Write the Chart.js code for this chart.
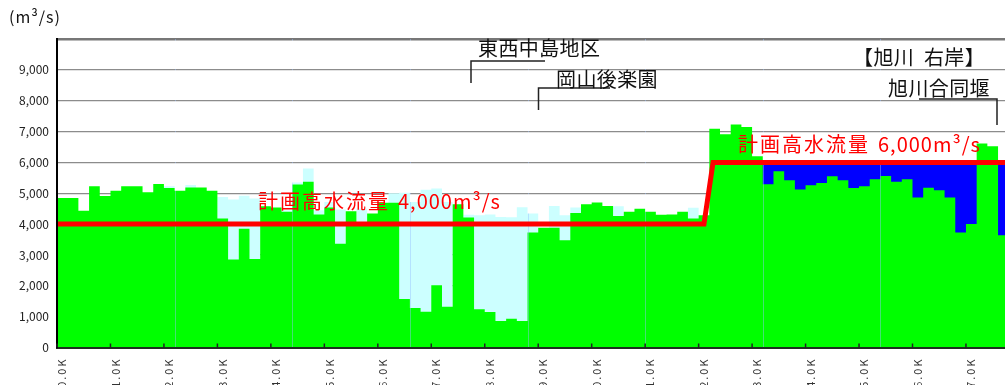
<!DOCTYPE html>
<html>
<head>
<meta charset="utf-8">
<script src="https://cdn.jsdelivr.net/npm/chart.js@4.4.1/dist/chart.umd.min.js"></script>
<style>
  html, body { margin: 0; padding: 0; background: #fff; }
</style>
</head>
<body>
<canvas id="flow" width="1005" height="385"></canvas>
<script>
// 距離標 (K) : 0.2K ごと
const distances = [0.0,0.2,0.4,0.6,0.8,1.0,1.2,1.4,1.6,1.8,2.0,2.2,2.4,2.6,2.8,3.0,3.2,3.4,3.6,3.8,
  4.0,4.2,4.4,4.6,4.8,5.0,5.2,5.4,5.6,5.8,6.0,6.2,6.4,6.6,6.8,7.0,7.2,7.4,7.6,7.8,
  8.0,8.2,8.4,8.6,8.8,9.0,9.2,9.4,9.6,9.8,10.0,10.2,10.4,10.6,10.8,11.0,11.2,11.4,11.6,11.8,
  12.0,12.2,12.4,12.6,12.8,13.0,13.2,13.4,13.6,13.8,14.0,14.2,14.4,14.6,14.8,15.0,15.2,15.4,15.6,15.8,
  16.0,16.2,16.4,16.6,16.8,17.0,17.2,17.4,17.6];
const xEnd = 17.73;

// 流下能力 (緑)
const capacity = [4850,4850,4430,5230,4910,5080,5230,5230,5030,5300,
  5170,5080,5190,5190,5080,4180,2850,3850,2870,4580,
  4540,4400,5280,5370,4310,4540,3360,4420,4060,4340,
  4690,4690,1570,1280,1160,2020,1320,4640,4210,1240,
  1150,860,930,860,3730,3880,3880,3480,4360,4640,
  4700,4590,4260,4400,4500,4400,4300,4310,4400,4180,
  4290,7090,6910,7230,7150,6200,5290,5710,5420,5120,
  5260,5330,5550,5420,5170,5230,5450,5560,5370,5450,
  4860,5180,5100,4860,3730,4000,6610,6520,3640];

// 流下能力 (水色)
const capacityAlt = [0,0,0,0,0,0,0,0,0,0,
  5230,0,5270,0,0,4880,4800,4920,4830,0,
  0,4450,5350,5800,4450,4720,4470,0,4500,0,
  0,5000,5020,4720,5110,5150,4720,0,4300,4290,
  4310,4230,4220,4550,4340,0,4590,4290,4540,0,
  0,0,4580,0,0,0,0,0,0,4530,
  0,0,0,0,0,0,0,0,0,0,
  0,0,0,0,0,0,0,0,0,0,
  0,0,0,0,0,0,0,0,0];

// 不足分 (青)
const shortage = [0,0,0,0,0,0,0,0,0,0,
  0,0,0,0,0,0,0,0,0,0,
  0,0,0,0,0,0,0,0,0,0,
  0,0,0,0,0,0,0,0,0,0,
  0,0,0,0,0,0,0,0,0,0,
  0,0,0,0,0,0,0,0,0,0,
  0,0,0,0,0,6000,6000,6000,6000,6000,
  6000,6000,6000,6000,6000,6000,6000,6000,6000,6000,
  6000,6000,6000,6000,6000,6000,6000,6000,6000];

// 計画高水流量
const planDist = [0, 12.1, 12.27, 17.73];
const planFlow = [4000, 4000, 6000, 6000];

const JP = '"Noto Sans CJK JP", sans-serif';

function steps(values) {
  const pts = distances.map((d, i) => ({ x: d, y: values[i] }));
  pts.push({ x: xEnd, y: values[values.length - 1] });
  return pts;
}

function area(values, color, order) {
  return {
    data: steps(values),
    stepped: 'before',
    fill: 'origin',
    backgroundColor: color,
    borderColor: 'rgba(0,0,0,0)',
    borderWidth: 0,
    pointRadius: 0,
    order: order
  };
}

const notes = {
  id: 'notes',
  beforeDatasetDraw(chart, args) {
    if (args.index !== 0) return;
    // 区間の境目 (薄い縦線)
    const { ctx, chartArea, scales } = chart;
    ctx.save();
    ctx.globalCompositeOperation = 'source-atop';
    ctx.strokeStyle = 'rgba(150,190,255,0.45)';
    ctx.lineWidth = 1;
    [2.2, 4.4, 6.6, 8.8, 11.0, 13.2, 15.4].forEach(k => {
      const px = Math.round(scales.x.getPixelForValue(k)) + 0.5;
      ctx.beginPath();
      ctx.moveTo(px, chartArea.top);
      ctx.lineTo(px, chartArea.bottom);
      ctx.stroke();
    });
    ctx.restore();
  },
  afterDatasetsDraw(chart) {
    // x 目盛ラベル (z:2) は字間を広げて描く
    chart.ctx.letterSpacing = '2px';
  },
  afterDraw(chart) {
    const { ctx, chartArea, scales } = chart;
    ctx.save();
    ctx.letterSpacing = '0px';
    // 内向きの目盛
    ctx.strokeStyle = '#222';
    ctx.lineWidth = 1.5;
    scales.x.ticks.forEach(t => {
      const px = scales.x.getPixelForValue(t.value);
      ctx.beginPath();
      ctx.moveTo(px, chartArea.bottom);
      ctx.lineTo(px, chartArea.bottom - 4);
      ctx.stroke();
    });

    // 引出線
    ctx.strokeStyle = '#222';
    ctx.lineWidth = 1.5;
    const leaders = [
      [[545, 61], [471, 61], [471, 83]],
      [[610, 88], [538.5, 88], [538.5, 110]],
      [[919, 99], [997, 99], [997, 125]]
    ];
    leaders.forEach(path => {
      ctx.beginPath();
      ctx.moveTo(path[0][0], path[0][1]);
      path.slice(1).forEach(p => ctx.lineTo(p[0], p[1]));
      ctx.stroke();
    });

    ctx.textBaseline = 'middle';
    ctx.textAlign = 'left';
    ctx.fillStyle = '#111';
    ctx.font = '16px ' + JP;
    ctx.letterSpacing = '1px';
    ctx.fillText('(m³/s)', 9, 17);
    ctx.font = '20px ' + JP;
    ctx.letterSpacing = '0.4px';
    ctx.fillText('東西中島地区', 478, 48);
    ctx.fillText('岡山後楽園', 556, 79);
    ctx.fillText('【旭川  右岸】', 853, 57);
    ctx.fillText('旭川合同堰', 888, 88);

    // 計画高水流量ラベル
    ctx.fillStyle = '#ff0000';
    [['4,000m³/s', 258, 201], ['6,000m³/s', 738, 144]].forEach(([q, x, y]) => {
      ctx.letterSpacing = '2px';
      ctx.fillText('計画高水流量', x, y);
      ctx.letterSpacing = '1px';
      ctx.fillText(q, x + 140, y);
    });
    ctx.restore();
    ctx.letterSpacing = '0px';
  }
};

const config = {
  type: 'line',
  data: {
    datasets: [
      {
        label: '計画高水流量',
        data: planDist.map((d, i) => ({ x: d, y: planFlow[i] })),
        borderColor: '#ff0000',
        borderWidth: 5,
        borderCapStyle: 'round',
        borderJoinStyle: 'miter',
        pointRadius: 0,
        fill: false,
        order: 0
      },
      area(capacity, '#00ff00', 1),
      area(shortage, '#0000ff', 2),
      area(capacityAlt, '#ccffff', 3)
    ]
  },
  options: {
    responsive: false,
    animation: false,
    devicePixelRatio: 1,
    layout: { padding: { top: 39, left: 0, right: 0, bottom: 0 } },
    plugins: {
      legend: { display: false },
      tooltip: { enabled: false }
    },
    scales: {
      x: {
        type: 'linear',
        min: 0,
        max: xEnd,
        afterBuildTicks: s => { s.ticks = s.ticks.filter(t => Number.isInteger(t.value)); },
        afterFit: s => { s.height = 37.5; },
        ticks: {
          z: 2,
          stepSize: 1,
          autoSkip: false,
          minRotation: 90,
          maxRotation: 90,
          padding: 10,
          labelOffset: 5,
          color: '#333',
          font: { size: 11, family: JP },
          callback: v => v.toFixed(1) + 'K'
        },
        grid: { drawOnChartArea: false, drawTicks: false },
        border: { color: '#1f2f1f', width: 2, z: 1 }
      },
      y: {
        min: 0,
        max: 10000,
        afterFit: s => { s.width = 57; },
        ticks: {
          stepSize: 1000,
          padding: 8,
          color: '#222',
          font: { size: 12, family: JP },
          callback: v => v === 10000 ? '' : v.toLocaleString('en-US')
        },
        grid: {
          drawTicks: false,
          color: c => c.tick.value === 10000 ? '#777' : '#8c8c8c',
          lineWidth: c => c.tick.value === 10000 ? 2.5 : 1.3
        },
        border: { color: '#000', width: 2, z: 1 }
      }
    }
  },
  plugins: [notes]
};

const ctx = document.getElementById('flow').getContext('2d');
const flowChart = new Chart(ctx, config);
</script>
</body>
</html>
